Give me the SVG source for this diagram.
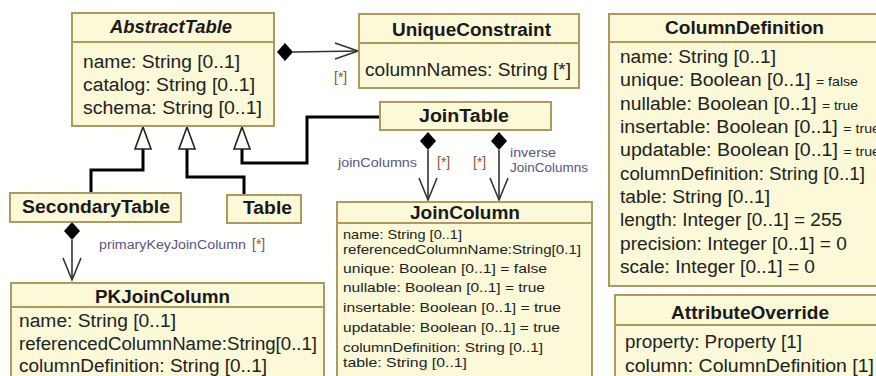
<svg xmlns="http://www.w3.org/2000/svg" width="876" height="376" viewBox="0 0 876 376">
<style>
.box{fill:#fbf9d8;stroke:#ad9a5e;stroke-width:2}
.div{stroke:#ad9a5e;stroke-width:2}
.t{font-family:"Liberation Sans",Arial,sans-serif;font-size:18px;font-weight:bold;fill:#1a1a1a}
.a{font-family:"Liberation Sans",Arial,sans-serif;font-size:18px;fill:#222}
.s{font-family:"Liberation Sans",Arial,sans-serif;font-size:13.5px;fill:#222}
.sm{font-size:13px}
.lbl{font-family:"Liberation Sans",Arial,sans-serif;font-size:12.5px;fill:#5c5480}
.mul{font-family:"Liberation Sans",Arial,sans-serif;font-size:14px;fill:#8a5a2c}
.gen{fill:none;stroke:#000;stroke-width:3}
.tri{fill:#fff;stroke:#222;stroke-width:1.6}
.cl{fill:none;stroke:#333;stroke-width:1.6}
.dia{fill:#000}
</style>
<rect width="876" height="376" fill="#fff"/>
<g id="connectors">
<path class="gen" d="M143,149 V170 H91 V193"/>
<path class="gen" d="M187,149 V177 H244 V195"/>
<path class="gen" d="M242,149 V163 H307 V117 H380"/>
<polygon class="tri" points="143,127 135,149 151,149"/>
<polygon class="tri" points="187,127 179,149 195,149"/>
<polygon class="tri" points="242,127 234,149 250,149"/>
<path class="cl" d="M293,52 L358,51"/>
<path class="cl" d="M335,43 L358,51 L335,59"/>
<polygon class="dia" points="277,52 285,43 293,52 285,61"/>
<text class="mul" x="334" y="82">[*]</text>
<path class="cl" d="M428,150 V200"/>
<path class="cl" d="M419,178 L428,200 L437,178"/>
<polygon class="dia" points="428,132 436,141 428,150 420,141"/>
<path class="cl" d="M499,150 V200"/>
<path class="cl" d="M490,178 L499,200 L508,178"/>
<polygon class="dia" points="499,132 507,141 499,150 491,141"/>
<text class="lbl" x="338" y="167" textLength="79" lengthAdjust="spacingAndGlyphs">joinColumns</text>
<text class="mul" x="437" y="167">[*]</text>
<text class="mul" x="473" y="167">[*]</text>
<text class="lbl" x="510" y="157" textLength="46" lengthAdjust="spacingAndGlyphs">inverse</text>
<text class="lbl" x="510" y="172" textLength="78" lengthAdjust="spacingAndGlyphs">JoinColumns</text>
<path class="cl" d="M72,240 V280"/>
<path class="cl" d="M63,258 L72,280 L81,258"/>
<polygon class="dia" points="72,222 80,231 72,240 64,231"/>
<text class="lbl" x="99" y="249" textLength="147" lengthAdjust="spacingAndGlyphs">primaryKeyJoinColumn</text>
<text class="mul" x="252" y="249">[*]</text>
</g>
<g id="AbstractTable">
<rect class="box" x="72" y="13" width="202" height="113"/>
<line class="div" x1="72" y1="42" x2="274" y2="42"/>
<text class="t" x="110" y="33" font-style="italic" textLength="122" lengthAdjust="spacingAndGlyphs">AbstractTable</text>
<text class="a" x="83" y="68" textLength="157" lengthAdjust="spacingAndGlyphs">name: String [0..1]</text>
<text class="a" x="83" y="91" textLength="172" lengthAdjust="spacingAndGlyphs">catalog: String [0..1]</text>
<text class="a" x="83" y="114" textLength="179" lengthAdjust="spacingAndGlyphs">schema: String [0..1]</text>
</g>
<g id="UniqueConstraint">
<rect class="box" x="359" y="14" width="220" height="74"/>
<line class="div" x1="359" y1="43" x2="579" y2="43"/>
<text class="t" x="392" y="36" textLength="159" lengthAdjust="spacingAndGlyphs">UniqueConstraint</text>
<text class="a" x="365" y="76" textLength="206" lengthAdjust="spacingAndGlyphs">columnNames: String [*]</text>
</g>
<g id="JoinTable">
<rect class="box" x="380" y="102" width="171" height="28"/>
<text class="t" x="419" y="122" textLength="90" lengthAdjust="spacingAndGlyphs">JoinTable</text>
</g>
<g id="SecondaryTable">
<rect class="box" x="10" y="193" width="171" height="29"/>
<text class="t" x="22" y="213" textLength="148" lengthAdjust="spacingAndGlyphs">SecondaryTable</text>
</g>
<g id="Table">
<rect class="box" x="227" y="195" width="74" height="28"/>
<text class="t" x="243" y="214" textLength="49" lengthAdjust="spacingAndGlyphs">Table</text>
</g>
<g id="PKJoinColumn">
<rect class="box" x="11" y="283" width="313" height="100"/>
<line class="div" x1="11" y1="307" x2="324" y2="307"/>
<text class="t" x="95" y="303" textLength="135" lengthAdjust="spacingAndGlyphs">PKJoinColumn</text>
<text class="a" x="19" y="327" textLength="157" lengthAdjust="spacingAndGlyphs">name: String [0..1]</text>
<text class="a" x="19" y="350" textLength="298" lengthAdjust="spacingAndGlyphs">referencedColumnName:String[0..1]</text>
<text class="a" x="19" y="372" textLength="248" lengthAdjust="spacingAndGlyphs">columnDefinition: String [0..1]</text>
</g>
<g id="JoinColumn">
<rect class="box" x="337" y="202" width="255" height="181"/>
<line class="div" x1="337" y1="223" x2="592" y2="223"/>
<text class="t" x="410" y="219" textLength="110" lengthAdjust="spacingAndGlyphs">JoinColumn</text>
<text class="s" x="343" y="239" textLength="119" lengthAdjust="spacingAndGlyphs">name: String [0..1]</text>
<text class="s" x="343" y="254" textLength="238" lengthAdjust="spacingAndGlyphs">referencedColumnName:String[0.1]</text>
<text class="s" x="343" y="273" textLength="204" lengthAdjust="spacingAndGlyphs">unique: Boolean [0..1] = false</text>
<text class="s" x="343" y="292" textLength="202" lengthAdjust="spacingAndGlyphs">nullable: Boolean [0..1] = true</text>
<text class="s" x="343" y="312" textLength="218" lengthAdjust="spacingAndGlyphs">insertable: Boolean [0..1] = true</text>
<text class="s" x="343" y="332" textLength="217" lengthAdjust="spacingAndGlyphs">updatable: Boolean [0..1] = true</text>
<text class="s" x="343" y="352" textLength="200" lengthAdjust="spacingAndGlyphs">columnDefinition: String [0..1]</text>
<text class="s" x="343" y="367" textLength="124" lengthAdjust="spacingAndGlyphs">table: String [0..1]</text>
</g>
<g id="ColumnDefinition">
<rect class="box" x="609" y="14" width="280" height="272"/>
<line class="div" x1="609" y1="42" x2="889" y2="42"/>
<text class="t" x="665" y="34" textLength="159" lengthAdjust="spacingAndGlyphs">ColumnDefinition</text>
<text class="a" x="620" y="63" textLength="156" lengthAdjust="spacingAndGlyphs">name: String [0..1]</text>
<text class="a" x="620" y="86" textLength="238" lengthAdjust="spacingAndGlyphs">unique: Boolean [0..1] <tspan class="sm">= false</tspan></text>
<text class="a" x="620" y="109.5" textLength="238" lengthAdjust="spacingAndGlyphs">nullable: Boolean [0..1] <tspan class="sm">= true</tspan></text>
<text class="a" x="620" y="133" textLength="260" lengthAdjust="spacingAndGlyphs">insertable: Boolean [0..1] <tspan class="sm">= true</tspan></text>
<text class="a" x="620" y="156" textLength="260" lengthAdjust="spacingAndGlyphs">updatable: Boolean [0..1] <tspan class="sm">= true</tspan></text>
<text class="a" x="620" y="179.5" textLength="245" lengthAdjust="spacingAndGlyphs">columnDefinition: String [0..1]</text>
<text class="a" x="620" y="203" textLength="150" lengthAdjust="spacingAndGlyphs">table: String [0..1]</text>
<text class="a" x="620" y="226" textLength="222" lengthAdjust="spacingAndGlyphs">length: Integer [0..1] = 255</text>
<text class="a" x="620" y="249.5" textLength="227" lengthAdjust="spacingAndGlyphs">precision: Integer [0..1] = 0</text>
<text class="a" x="620" y="273" textLength="195" lengthAdjust="spacingAndGlyphs">scale: Integer [0..1] = 0</text>
</g>
<g id="AttributeOverride">
<rect class="box" x="615" y="295" width="274" height="90"/>
<line class="div" x1="615" y1="325" x2="889" y2="325"/>
<text class="t" x="671" y="319" textLength="158" lengthAdjust="spacingAndGlyphs">AttributeOverride</text>
<text class="a" x="625" y="348" textLength="177" lengthAdjust="spacingAndGlyphs">property: Property [1]</text>
<text class="a" x="625" y="372" textLength="249" lengthAdjust="spacingAndGlyphs">column: ColumnDefinition [1]</text>
</g>
</svg>
